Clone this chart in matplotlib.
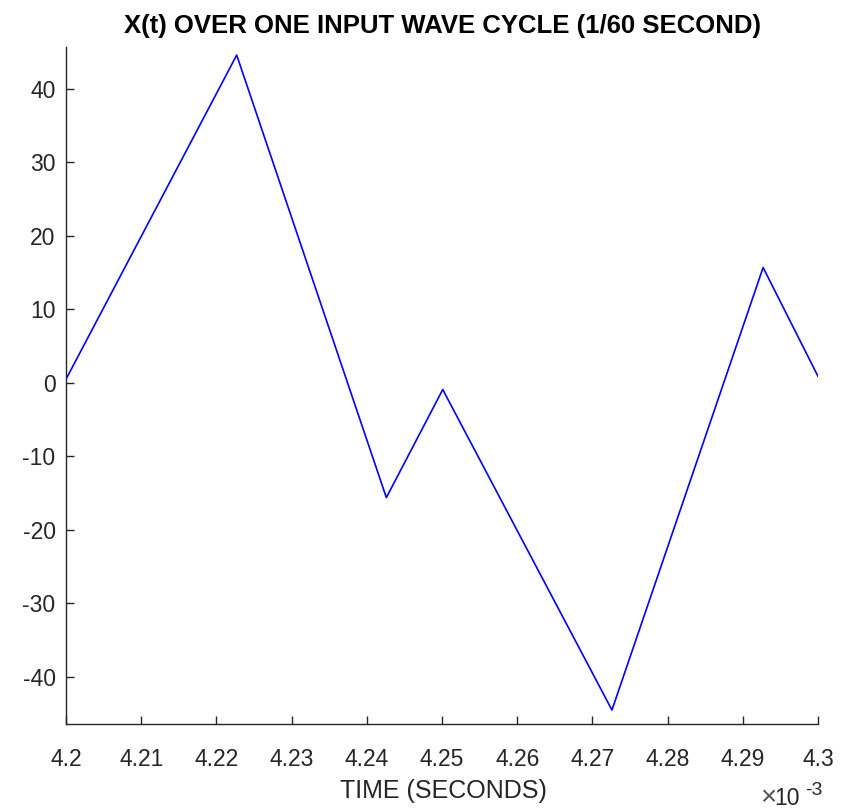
import matplotlib
matplotlib.use("Agg")
import matplotlib.pyplot as plt
from matplotlib.ticker import FuncFormatter

plt.rcParams['font.family'] = ['Liberation Sans', 'DejaVu Sans']
plt.rcParams['axes.unicode_minus'] = False

# data
t_ms = [4.2000, 4.2227, 4.2426, 4.2501, 4.2726, 4.2927, 4.3000]
x_vals = [0.5, 44.6, -15.6, -0.9, -44.5, 15.7, 0.9]
x_ticks_ms = [4.20, 4.21, 4.22, 4.23, 4.24, 4.25, 4.26, 4.27, 4.28, 4.29, 4.30]
y_ticks = [-40, -30, -20, -10, 0, 10, 20, 30, 40]

t_sec = [v * 1e-3 for v in t_ms]

W, H = 850, 810
fig = plt.figure(figsize=(8.5, 8.1), dpi=100)
ax = fig.add_axes([66 / W, 1 - 724 / H, (818 - 66) / W, (724 - 47) / H])
ax.plot(t_sec, x_vals, color='#0000ff', lw=1.2)

ax.set_xlim(4.2e-3, 4.3e-3)
ax.set_ylim(-46.4, 45.7)
ax.set_xticks([v * 1e-3 for v in x_ticks_ms])
ax.xaxis.set_major_formatter(FuncFormatter(lambda v, p: '%g' % round(v * 1e3, 4)))
ax.set_yticks(y_ticks)

for s in ['top', 'right']:
    ax.spines[s].set_visible(False)
gray = '#262626'
for s in ['left', 'bottom']:
    ax.spines[s].set_color(gray)
    ax.spines[s].set_linewidth(1.0)
ax.tick_params(direction='in', length=5.5, width=1.0, colors=gray, labelsize=16.5)
ax.tick_params(axis='x', pad=17)
ax.tick_params(axis='y', pad=7.5)

fig.text(442 / W, 1 - 33 / H, 'X(t) OVER ONE INPUT WAVE CYCLE (1/60 SECOND)',
         ha='center', va='baseline', fontsize=18.5, fontweight='bold', color='black')
fig.text(443 / W, 12 / H, 'TIME (SECONDS)', ha='center', va='baseline',
         fontsize=18, color=gray)
fig.text(776 / W, 5 / H, '\u00d7', ha='right', va='baseline', fontsize=20, color='#555555')
fig.text(800 / W, 5 / H, '10', ha='right', va='baseline', fontsize=16.5, color=gray)
fig.text(822 / W, 15 / H, '-3', ha='right', va='baseline', fontsize=14, color=gray)

fig.savefig('out.png', dpi=100, facecolor='white')
